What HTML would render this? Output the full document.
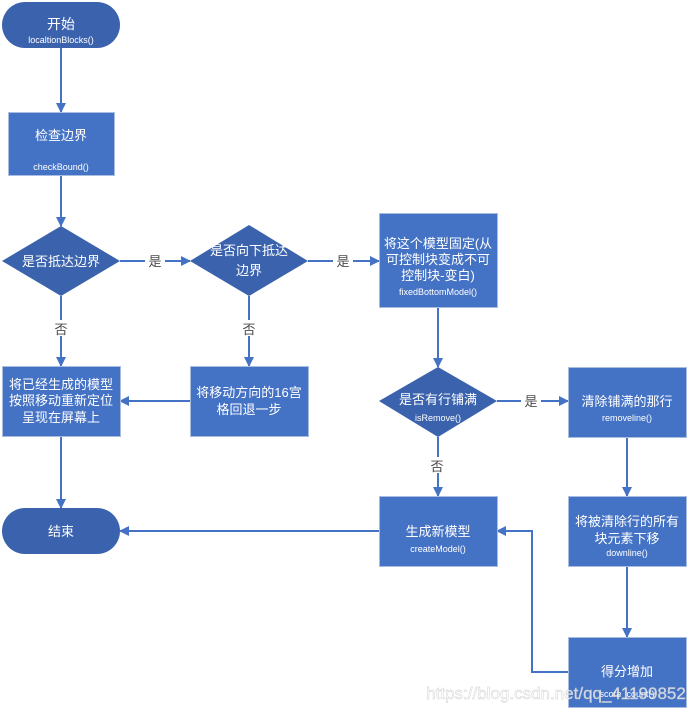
<!DOCTYPE html>
<html><head><meta charset="utf-8"><style>
html,body{margin:0;padding:0;background:#fff;}
svg{display:block;}
text{font-family:"Liberation Sans","Noto Sans CJK SC",sans-serif;fill:#fff;text-anchor:middle;}
.s{font-size:9px;}
.m{font-size:13px;}
.l{font-size:13px;fill:#4a4a4a;}
</style></head><body>
<svg width="687" height="709" viewBox="0 0 687 709" xmlns="http://www.w3.org/2000/svg">
<defs><marker id="a" markerWidth="10" markerHeight="10" refX="9" refY="5" orient="auto" markerUnits="userSpaceOnUse"><path d="M0,0 L10,5 L0,10 z" fill="#4472c4"/></marker></defs>
<g stroke="#4472c4" stroke-width="2" fill="none" marker-end="url(#a)">
<path d="M61,48 V112"/><path d="M61,175 V226"/><path d="M61,296 V366"/>
<path d="M120,261 H190"/><path d="M249,296 V366"/><path d="M308,261 H379"/>
<path d="M438,307 V367"/><path d="M497,401 H568"/><path d="M438,437 V496"/>
<path d="M627,437 V496"/><path d="M627,566 V637"/><path d="M190,401 H120"/>
<path d="M61,436 V508"/><path d="M379,531 H120"/><path d="M568,672 H532 V531 H497"/>
</g>
<g fill="#fff">
<rect x="145" y="253" width="20" height="16"/><rect x="333" y="253" width="20" height="16"/><rect x="521" y="393" width="20" height="16"/>
<rect x="51" y="320" width="20" height="16"/><rect x="239" y="320" width="20" height="16"/><rect x="427" y="457" width="20" height="16"/>
</g>
<text class="l" x="155" y="266">是</text><text class="l" x="343" y="266">是</text><text class="l" x="531" y="406">是</text>
<text class="l" x="61" y="334">否</text><text class="l" x="249" y="334">否</text><text class="l" x="437" y="471">否</text>
<g stroke="#a9bde0" stroke-width="1" fill="#4472c4">
<rect x="8.5" y="112.5" width="106" height="63"/>
<rect x="379.5" y="213.5" width="118" height="94"/>
<rect x="568.5" y="367.5" width="118" height="70"/>
<rect x="2.5" y="366.5" width="118" height="70"/>
<rect x="190.5" y="366.5" width="118" height="70"/>
<rect x="379.5" y="496.5" width="118" height="70"/>
<rect x="568.5" y="496.5" width="118" height="70"/>
<rect x="568.5" y="637.5" width="118" height="70"/>
</g>
<g fill="#3b63ad">
<rect x="2" y="2" width="118" height="46" rx="23"/>
<rect x="2" y="508" width="118" height="46" rx="23"/>
<path d="M61,226 L120,261 L61,296 L2,261 z"/>
<path d="M249,225 L308,261 L249,296 L190,261 z"/>
<path d="M438,367 L497,401 L438,437 L379,401 z"/>
</g>
<text x="61" y="29" style="font-size:14px">开始</text><text class="s" x="61" y="43">localtionBlocks()</text>
<text class="m" x="61" y="140">检查边界</text><text class="s" x="61" y="170">checkBound()</text>
<text class="m" x="61" y="266">是否抵达边界</text>
<text class="m" x="249" y="255">是否向下抵达</text><text class="m" x="249" y="275">边界</text>
<text class="m" x="438" y="248">将这个模型固定(从</text><text class="m" x="438" y="264">可控制块变成不可</text><text class="m" x="438" y="280">控制块-变白)</text><text class="s" x="438" y="295">fixedBottomModel()</text>
<text class="m" x="438" y="404">是否有行铺满</text><text class="s" x="438" y="421">isRemove()</text>
<text class="m" x="627" y="406">清除铺满的那行</text><text class="s" x="627" y="421">removeline()</text>
<text class="m" x="61" y="389">将已经生成的模型</text><text class="m" x="61" y="405">按照移动重新定位</text><text class="m" x="61" y="422">呈现在屏幕上</text>
<text class="m" x="249" y="397">将移动方向的16宫</text><text class="m" x="249" y="414">格回退一步</text>
<text x="61" y="536" style="font-size:13px">结束</text>
<text class="m" x="438" y="536">生成新模型</text><text class="s" x="438" y="552">createModel()</text>
<text class="m" x="627" y="526">将被清除行的所有</text><text class="m" x="627" y="543">块元素下移</text><text class="s" x="627" y="556">downline()</text>
<text class="m" x="627" y="676">得分增加</text><text class="s" x="627" y="697">score_count()</text>
<text x="556" y="699" style="font-size:17px;fill:#ffffff;fill-opacity:0.75;stroke:#c8c8c8;stroke-width:0.4">https://blog.csdn.net/qq_41199852</text>
</svg>
</body></html>
